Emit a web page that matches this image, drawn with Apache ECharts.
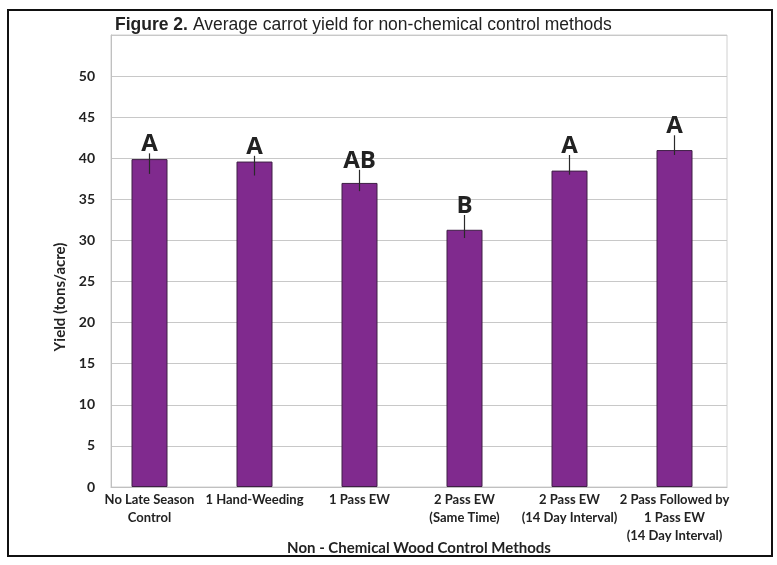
<!DOCTYPE html>
<html><head><meta charset="utf-8">
<script src="https://cdn.jsdelivr.net/npm/echarts@6/dist/echarts.min.js"></script>
<style>html,body{margin:0;padding:0;background:#fff}#c{width:777px;height:565px}</style>
</head><body><div id="c"></div>
<script>
const categories = ["No Late Season\nControl", "1 Hand-Weeding", "1 Pass EW", "2 Pass EW\n(Same Time)", "2 Pass EW\n(14 Day Interval)", "2 Pass Followed by\n1 Pass EW\n(14 Day Interval)"];
const yieldValues = [39.9, 39.6, 37.0, 31.3, 38.5, 41.0];
const errLow = [38.1, 37.9, 36.0, 30.3, 38.0, 40.4];
const errHigh = [40.6, 40.3, 38.6, 33.1, 40.4, 42.8];
const letters = ["A", "A", "AB", "B", "A", "A"];
const yTicks = [0, 5, 10, 15, 20, 25, 30, 35, 40, 45, 50];

const chart = echarts.init(document.getElementById('c'), null, {renderer: 'canvas'});
const errData = categories.map((c, i) => [i, errLow[i], errHigh[i], letters[i]]);
const labelFont = 'Lato, "Open Sans", sans-serif';
const titleFont = '"Liberation Sans", Arial, sans-serif';
chart.setOption({
  animation: false,
  backgroundColor: '#fff',
  title: {
    text: '{b|Figure 2.} {n|Average carrot yield for non-chemical control methods}',
    left: 110, top: 11,
    textStyle: {
      fontWeight: 'normal',
      rich: {
        b: {fontFamily: titleFont, fontWeight: 'bold', fontSize: 17.5, color: '#222'},
        n: {fontFamily: titleFont, fontWeight: 'normal', fontSize: 17.5, color: '#222'}
      }
    }
  },
  graphic: [
    {type: 'rect', shape: {x: 8, y: 10, width: 764, height: 546}, style: {fill: 'none', stroke: '#111', lineWidth: 2}, silent: true, z: -1}
  ],
  grid: [
    {left: 111, right: 50, top: 35, bottom: 78, show: true, borderColor: '#d0d0d0', borderWidth: 1},
    {left: 97, right: 50, top: 35, bottom: 78}
  ],
  xAxis: [
    {type: 'value', gridIndex: 0, min: 0, max: 1,
     axisLine: {show: true, lineStyle: {color: '#c0c0c0'}}, axisTick: {show: false}, axisLabel: {show: false}, splitLine: {show: false},
     name: 'Non - Chemical Wood Control Methods', nameLocation: 'middle', nameGap: 61, nameMoveOverlap: false,
     nameTextStyle: {fontFamily: labelFont, fontWeight: 'bold', fontSize: 15, color: '#222', verticalAlign: 'middle', lineHeight: 16}},
    {type: 'category', gridIndex: 1, data: categories,
     axisLine: {show: false}, axisTick: {show: false},
     axisLabel: {interval: 0, margin: 4, fontFamily: labelFont, fontWeight: 'bold', fontSize: 13, color: '#222', lineHeight: 18}}
  ],
  yAxis: [
    {type: 'value', gridIndex: 0, min: 0, max: 55, interval: 5,
     axisLine: {show: true, lineStyle: {color: '#c0c0c0'}},
     axisTick: {show: false},
     splitLine: {lineStyle: {color: '#c8c8c8', width: 1}},
     axisLabel: {margin: 16, fontFamily: labelFont, fontWeight: 'bold', fontSize: 14, color: '#222',
       formatter: v => yTicks.indexOf(v) >= 0 ? String(v) : ''},
     name: 'Yield (tons/acre)', nameLocation: 'middle', nameGap: 43, nameMoveOverlap: false,
     nameTextStyle: {fontFamily: labelFont, fontWeight: 'bold', fontSize: 15, color: '#222', padding: [0, 72, 0, 0]}},
    {type: 'value', gridIndex: 1, min: 0, max: 55, interval: 5, show: false, splitLine: {show: false}}
  ],
  series: [
    {type: 'bar', xAxisIndex: 1, yAxisIndex: 1, data: yieldValues, barWidth: 36,
     itemStyle: {color: '#802a8e', borderColor: '#3e1f45', borderWidth: 1}},
    {type: 'custom', xAxisIndex: 1, yAxisIndex: 1, data: errData, z: 5,
     renderItem: function (params, api) {
       const top = api.coord([api.value(0), api.value(2)]);
       const bot = api.coord([api.value(0), api.value(1)]);
       return {type: 'group', children: [
         {type: 'line', shape: {x1: top[0], y1: top[1], x2: bot[0], y2: bot[1]}, style: {stroke: '#2a2a2a', lineWidth: 1.2}},
         {type: 'text', style: {x: top[0], y: top[1] + 3, text: letters[params.dataIndex], textAlign: 'center', textVerticalAlign: 'bottom',
           font: 'bold 24px "Open Sans", Lato, sans-serif', fill: '#222'}}
       ]};
     }}
  ]
});
</script></body></html>
